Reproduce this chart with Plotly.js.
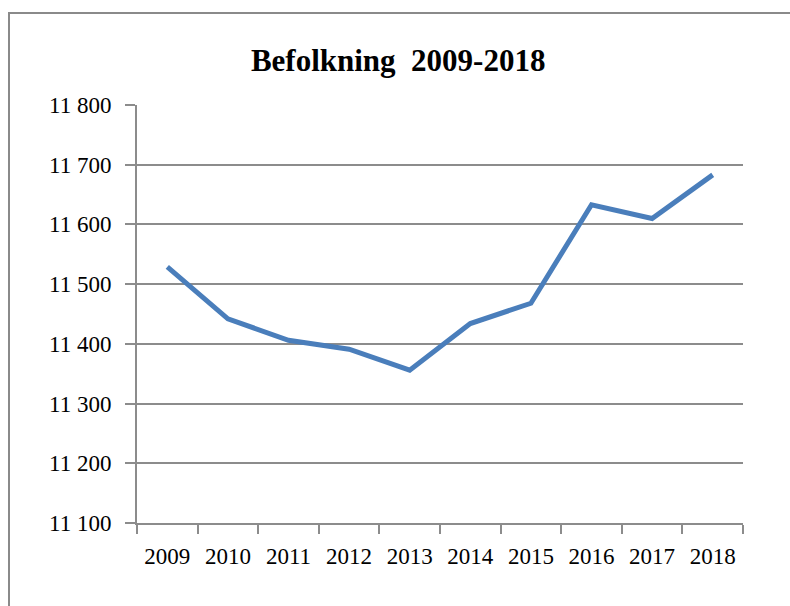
<!DOCTYPE html>
<html>
<head>
<meta charset="utf-8">
<script src="https://cdn.plot.ly/plotly-3.0.1.min.js"></script>
<style>
html,body{margin:0;padding:0;overflow:hidden;background:#fff;}
#frame{position:absolute;left:8px;top:12px;width:900px;height:800px;border:2px solid #8a8a8a;box-sizing:border-box;}
#chart{position:absolute;left:0;top:0;width:790px;height:606px;}
</style>
</head>
<body>
<div id="frame"></div>
<div id="chart"></div>
<script>
const years = ['2009','2010','2011','2012','2013','2014','2015','2016','2017','2018'];
const population = [11529, 11442, 11406, 11391, 11356, 11434, 11468, 11633, 11610, 11683];
const yTicks = [11100, 11200, 11300, 11400, 11500, 11600, 11700, 11800];
const chartTitle = 'Befolkning  2009-2018';

const trace = {
  x: years,
  y: population,
  type: 'scatter',
  mode: 'lines',
  line: {color: '#4a7ebb', width: 5, shape: 'linear'},
  hoverinfo: 'x+y'
};

const serif = '"Liberation Serif", "Times New Roman", serif';

const layout = {
  width: 790,
  height: 606,
  paper_bgcolor: 'rgba(0,0,0,0)',
  plot_bgcolor: 'rgba(0,0,0,0)',
  margin: {l: 137, r: 47, t: 105, b: 83},
  separators: ', ',
  showlegend: false,
  font: {family: serif, color: '#000', size: 23},
  title: {
    text: '<b>' + chartTitle + '</b>',
    font: {family: serif, size: 31, color: '#000'},
    x: 0.504, xanchor: 'center', xref: 'container',
    y: 0.883, yanchor: 'bottom', yref: 'container'
  },
  xaxis: {
    type: 'category',
    range: [-0.5, 9.5],
    showgrid: false,
    showline: true,
    linecolor: '#8c8c8c',
    linewidth: 2,
    ticks: 'outside',
    tickson: 'boundaries',
    ticklen: 9,
    tickwidth: 2,
    tickcolor: '#8c8c8c',
    tickfont: {size: 23},
    ticklabelstandoff: 11,
    fixedrange: true,
    zeroline: false
  },
  yaxis: {
    range: [11100, 11800],
    tickvals: yTicks,
    tickformat: ',d',
    showgrid: true,
    gridcolor: '#8c8c8c',
    gridwidth: 2,
    showline: true,
    linecolor: '#8c8c8c',
    linewidth: 2,
    ticks: 'outside',
    ticklen: 10,
    tickwidth: 2,
    tickcolor: '#8c8c8c',
    tickfont: {size: 23},
    ticklabelstandoff: 9,
    zeroline: false,
    fixedrange: true
  }
};

Plotly.newPlot('chart', [trace], layout, {displayModeBar: false, staticPlot: true});
</script>
</body>
</html>
